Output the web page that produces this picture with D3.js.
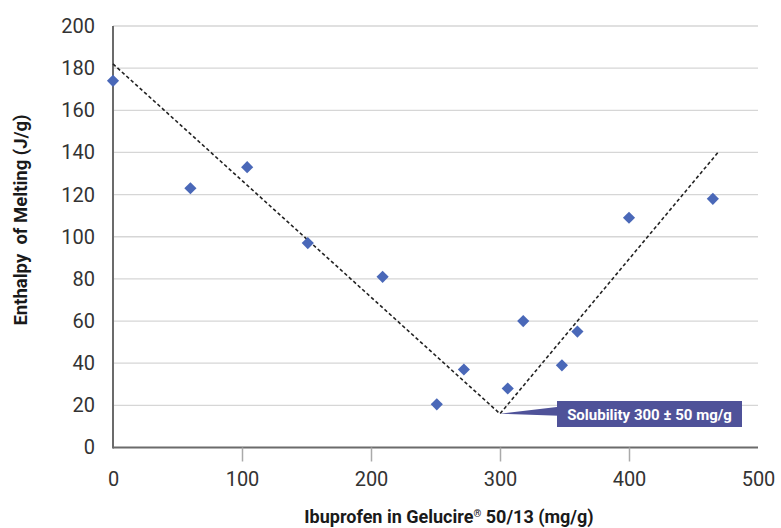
<!DOCTYPE html>
<html><head><meta charset="utf-8">
<script src="https://cdn.jsdelivr.net/npm/d3@7"></script>
<style>body{margin:0;background:#fff}svg{display:block}</style>
</head><body>
<svg id="c" width="781" height="528"></svg>
<script>
const xValues = [0, 60, 104, 151, 209, 251, 272, 306, 318, 348, 360, 400, 465];
const yValues = [174, 123, 133, 97, 81, 20.5, 37, 28, 60, 39, 55, 109, 118];
const trendX = [0, 300, 469];
const trendY = [182, 16, 140];
const xTicks = [0, 100, 200, 300, 400, 500];
const yTicks = [0, 20, 40, 60, 80, 100, 120, 140, 160, 180, 200];
const xTitleA = "Ibuprofen in Gelucire";
const xTitleB = "\u00AE";
const xTitleC = " 50/13 (mg/g)";
const yTitle = "Enthalpy\u00A0 of Melting (J/g)";
const annText = "Solubility 300 \u00B1 50 mg/g";
const annPoint = [300, 16];

const svg = d3.select("#c");
const font = "Roboto, 'DejaVu Sans', sans-serif";
const x = d3.scaleLinear().domain([0, 500]).range([113, 758]);
const y = d3.scaleLinear().domain([0, 200]).range([447.5, 26]);

// gridlines
svg.append("g").selectAll("line").data(yTicks.filter(d => d > 0)).join("line")
  .attr("x1", x(0)).attr("x2", x(500))
  .attr("y1", d => y(d)).attr("y2", d => y(d))
  .attr("stroke", "#d6d6d6").attr("stroke-width", 1.3);

// x axis
const xAxis = svg.append("g").attr("transform", `translate(0,${y(0)})`)
  .call(d3.axisBottom(x).tickValues(xTicks).tickSize(14).tickPadding(10).tickFormat(d3.format("d")));
xAxis.select(".domain").attr("stroke", "#6b6b6b").attr("stroke-width", 2).attr("d", `M${x(0)},0H${x(500)}`);
xAxis.selectAll(".tick line").attr("stroke", "#aaa").attr("stroke-width", 1.5)
  .attr("display", d => (d === 0 || d === 500) ? "none" : null);
xAxis.selectAll(".tick text").attr("font-family", font).attr("font-size", 20).attr("fill", "#333");

// y axis
const yAxis = svg.append("g").attr("transform", `translate(${x(0)},0)`)
  .call(d3.axisLeft(y).tickValues(yTicks).tickSize(0).tickPadding(18).tickFormat(d3.format("d")));
yAxis.select(".domain").attr("stroke", "#6b6b6b").attr("stroke-width", 2).attr("d", `M0,${y(0)+1}V${y(200)}`);
yAxis.selectAll(".tick text").attr("font-family", font).attr("font-size", 20).attr("fill", "#333");

// trend dashed line
const line = d3.line().x(d => x(d[0])).y(d => y(d[1]));
svg.append("path").datum(trendX.map((v, i) => [v, trendY[i]]))
  .attr("d", line).attr("fill", "none").attr("stroke", "#222")
  .attr("stroke-width", 1.6).attr("stroke-dasharray", "3.5,2.5");

// points (diamonds)
svg.append("g").selectAll("path").data(xValues.map((v, i) => [v, yValues[i]])).join("path")
  .attr("d", d3.symbol().type(d3.symbolSquare).size(74))
  .attr("transform", d => `translate(${x(d[0])},${y(d[1])}) rotate(45)`)
  .attr("fill", "#4a68b8");

// annotation
const ax = x(annPoint[0]), ay = y(annPoint[1]);
const bx = 557, bw = 185, by = 401, bh = 26;
svg.append("path")
  .attr("d", `M${ax},${ay}L${bx + 2},${ay - 7}L${bx + 2},${ay + 2}Z`)
  .attr("fill", "#4f5299");
svg.append("rect").attr("x", bx).attr("y", by).attr("width", bw).attr("height", bh).attr("fill", "#4f5299");
svg.append("text").attr("x", bx + bw / 2).attr("y", by + bh / 2 + 5.5)
  .attr("text-anchor", "middle").attr("font-family", font).attr("font-weight", 700)
  .attr("font-size", 15).attr("fill", "#fff").text(annText);

// titles
const xt = svg.append("text").attr("x", 449).attr("y", 523).attr("text-anchor", "middle")
  .attr("font-family", font).attr("font-weight", 700).attr("font-size", 18).attr("fill", "#1a1a1a");
xt.append("tspan").text(xTitleA);
xt.append("tspan").attr("font-size", 10).attr("dy", -6).text(xTitleB);
xt.append("tspan").attr("dy", 6).text(xTitleC);
svg.append("text").attr("transform", "translate(27,220) rotate(-90)").attr("text-anchor", "middle")
  .attr("font-family", font).attr("font-weight", 700).attr("font-size", 18.5).attr("fill", "#1a1a1a")
  .text(yTitle);
</script>
</body></html>
